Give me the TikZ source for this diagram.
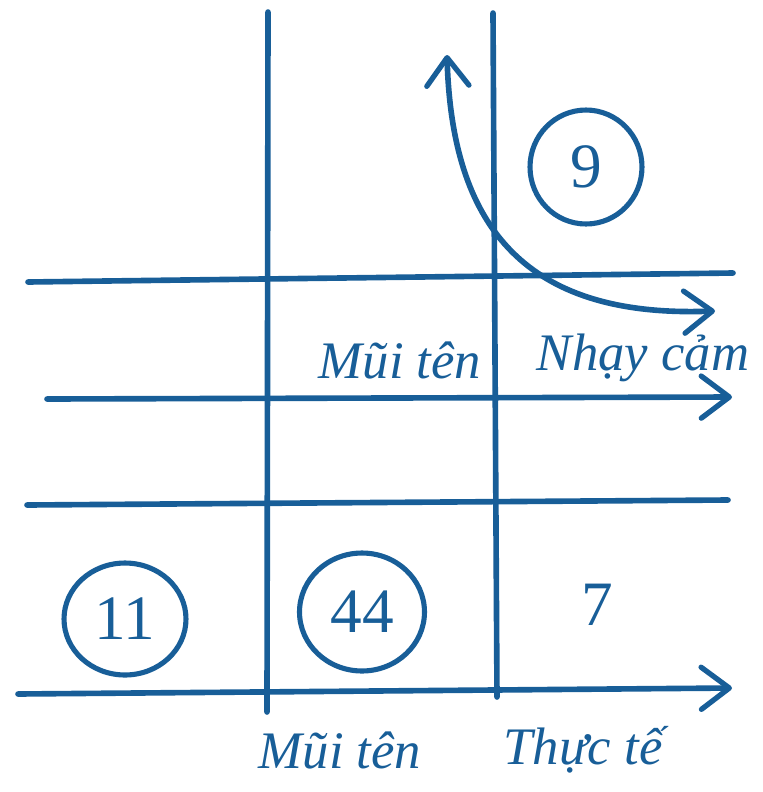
\documentclass[tikz,border=0pt]{standalone}
\usepackage{fontspec}
\setmainfont{Liberation Serif}
\usetikzlibrary{arrows.meta,shapes.geometric}
\definecolor{ink}{RGB}{24,94,152}
\begin{document}
\begin{tikzpicture}[x=0.02cm,y=-0.02cm,
  stroke/.style={draw=ink, line width=3.2pt, line cap=round},
  barb/.tip={Straight Barb[length=16pt,width=24pt,line width=3pt,round]},
  arrowline/.style={stroke, -barb},
  hand/.style={text=ink, font=\fontsize{30}{36}\selectfont\itshape, inner sep=0pt},
  ring/.style={draw=ink, line width=2.9pt, ellipse, inner sep=0pt, text=ink,
    font=\fontsize{36}{40}\selectfont},
  num/.style={text=ink, inner sep=0pt, font=\fontsize{36}{40}\selectfont}]
\useasboundingbox (0,0) rectangle (763,792);
% grid coordinates
\coordinate (v1t) at (268,12);  \coordinate (v1b) at (267,712);
\coordinate (v2t) at (493,13);  \coordinate (v2b) at (497,697);
\coordinate (h1l) at (28,282);  \coordinate (h1r) at (733,273);
\coordinate (h2l) at (47,399);  \coordinate (h2r) at (732,397);
\coordinate (h3l) at (27,505);  \coordinate (h3r) at (728,500);
\coordinate (h4l) at (18,694);  \coordinate (h4r) at (732,688);
\coordinate (ct) at (447,55);   \coordinate (ce) at (715,311);
% lines
\draw[stroke] (v1t) -- (v1b);
\draw[stroke] (v2t) -- (v2b);
\draw[stroke] (h1l) -- (h1r);
\draw[arrowline] (h2l) -- (h2r);
\draw[stroke] (h3l) -- (h3r);
\draw[arrowline] (h4l) -- (h4r);
% curve
\draw[stroke, barb-barb] (ct) .. controls (452,230) and (528,318) .. (ce);
% circled numbers
\node[ring, minimum width=2.24cm, minimum height=2.28cm] (n9) at (586,167) {9};
\node[ring, minimum width=2.44cm, minimum height=2.24cm] (n11) at (125,619) {11};
\node[ring, minimum width=2.5cm, minimum height=2.36cm] (n44) at (362,612) {44};
\node[num] (n7) at (597,605) {7};
% labels
\node[hand] (l1) at (400,360) {Mũi tên};
\node[hand] (l2) at (643,358) {Nhạy cảm};
\node[hand] (l3) at (340,750) {Mũi tên};
\node[hand] (l4) at (583,750) {Thực tế};
\end{tikzpicture}
\end{document}
